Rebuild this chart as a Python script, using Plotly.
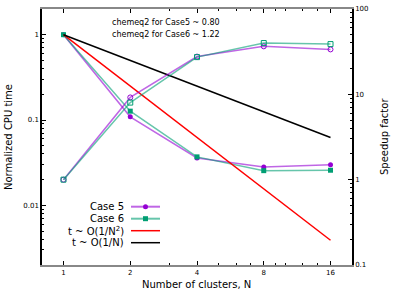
import math
import plotly.graph_objects as go

# ---------------- data ----------------
clusters = [1, 2, 4, 8, 16]
cpu_case5 = [1.0, 0.109, 0.0359, 0.0282, 0.0300]
cpu_case6 = [1.0, 0.127, 0.0370, 0.0255, 0.0258]
speedup_case5 = [1.0, 9.2, 27.7, 36.5, 33.6]
speedup_case6 = [1.0, 8.0, 27.3, 39.9, 38.8]
ideal_n = [1, 16]
ideal_n2_vals = [1.0, 0.0039]
ideal_n1_vals = [1.0, 0.0625]
x_ticks = [1, 2, 4, 8, 16]
x_minor = [3, 5, 6, 7, 9, 10, 12, 14]
y_ticks = [0.01, 0.1, 1]
y2_ticks = [0.1, 1, 10, 100]
legend_labels = ["Case 5", "Case 6", "t ~ O(1/N<sup>2</sup>)", "t ~ O(1/N)"]
notes = ["chemeq2 for Case5 ~ 0.80", "chemeq2 for Case6 ~ 1.22"]
x_title = "Number of clusters, N"
y_title = "Normalized CPU time"
y2_title = "Speedup factor"

PURPLE = "#9400d3"
GREEN = "#009e73"
PURPLE_L = "rgba(148,0,211,0.6)"
GREEN_L = "rgba(0,158,115,0.6)"
FONT = "DejaVu Sans"

W, H = 400, 293
L, R, T, B = 42, 48, 9, 28
pw, ph = W - L - R, H - T - B


def px(x):
    return (x - L) / pw


def py(y):
    return (H - B - y) / ph


fig = go.Figure()

fig.add_trace(go.Scatter(x=clusters, y=cpu_case5, mode="lines+markers",
                         line=dict(color=PURPLE_L, width=1.5),
                         marker=dict(symbol="circle", size=5, color=PURPLE),
                         showlegend=False))
fig.add_trace(go.Scatter(x=clusters, y=cpu_case6, mode="lines+markers",
                         line=dict(color=GREEN_L, width=1.5),
                         marker=dict(symbol="square", size=5, color=GREEN),
                         showlegend=False))
fig.add_trace(go.Scatter(x=clusters, y=speedup_case5, yaxis="y2", mode="lines+markers",
                         line=dict(color=PURPLE_L, width=1.5),
                         marker=dict(symbol="circle-open", size=5, color=PURPLE, line=dict(width=1)),
                         showlegend=False))
fig.add_trace(go.Scatter(x=clusters, y=speedup_case6, yaxis="y2", mode="lines+markers",
                         line=dict(color=GREEN_L, width=1.5),
                         marker=dict(symbol="square-open", size=5, color=GREEN, line=dict(width=1)),
                         showlegend=False))
fig.add_trace(go.Scatter(x=ideal_n, y=ideal_n2_vals, mode="lines",
                         line=dict(color="#ff0000", width=1.5), showlegend=False))
fig.add_trace(go.Scatter(x=ideal_n, y=ideal_n1_vals, mode="lines",
                         line=dict(color="#000000", width=1.5), showlegend=False))

# minor ticks for log y axes
y_minor = [m * 10 ** e for e in (-3, -2, -1, 0) for m in range(2, 10)
           if 0.002 < m * 10 ** e < 2]
y2_minor = [m * 10 ** e for e in (-1, 0, 1) for m in range(2, 10)]

tickfont = dict(family=FONT, size=7, color="#000")

fig.update_layout(
    width=W, height=H,
    margin=dict(l=L, r=R, t=T, b=B, autoexpand=False),
    plot_bgcolor="white", paper_bgcolor="white",
    font=dict(family=FONT, color="#000"),
    xaxis=dict(type="log", range=[math.log10(0.8), math.log10(20)],
               tickvals=x_ticks, ticktext=[str(v) for v in x_ticks],
               ticks="inside", ticklen=4, tickcolor="#000", tickwidth=1,
               showline=True, linecolor="#888888", linewidth=1.5, mirror="ticks",
               showgrid=False, zeroline=False, tickfont=tickfont, automargin=False,
               minor=dict(tickvals=x_minor, ticks="inside", ticklen=2, tickcolor="#000")),
    yaxis=dict(type="log", range=[math.log10(0.002), math.log10(2)],
               tickvals=y_ticks, ticktext=["0.01", "0.1", "1"],
               ticks="inside", ticklen=4, tickcolor="#000",
               showline=True, linecolor="#000", linewidth=1.5,
               showgrid=False, zeroline=False, tickfont=tickfont, automargin=False,
               minor=dict(tickvals=y_minor, ticks="inside", ticklen=2, tickcolor="#000")),
    yaxis2=dict(type="log", range=[-1, 2], overlaying="y", side="right",
                tickvals=y2_ticks, ticktext=["0.1", "1", "10", "100"],
                ticks="inside", ticklen=4, tickcolor="#000",
                showline=True, linecolor="#000", linewidth=1.5,
                showgrid=False, zeroline=False, tickfont=tickfont, automargin=False,
                minor=dict(tickvals=y2_minor, ticks="inside", ticklen=2, tickcolor="#000")),
)

# axis titles as annotations
fig.add_annotation(x=px(8), y=py(137), xref="paper", yref="paper", text=y_title,
                   textangle=-90, showarrow=False, xanchor="center", yanchor="middle",
                   font=dict(family=FONT, size=10, color="#000"))
fig.add_annotation(x=px(384), y=py(137), xref="paper", yref="paper", text=y2_title,
                   textangle=-90, showarrow=False, xanchor="center", yanchor="middle",
                   font=dict(family=FONT, size=10, color="#000"))
fig.add_annotation(x=px(196.7), y=py(284), xref="paper", yref="paper", text=x_title,
                   showarrow=False, xanchor="center", yanchor="middle",
                   font=dict(family=FONT, size=10, color="#000"))

# notes
for i, txt in enumerate(notes):
    fig.add_annotation(x=px(110), y=py(22 + 12 * i), xref="paper", yref="paper",
                       text=txt, showarrow=False, xanchor="left", yanchor="middle",
                       font=dict(family=FONT, size=8, color="#000"))

# custom gnuplot-style legend
leg_colors = [PURPLE_L, GREEN_L, "#ff0000", "#000000"]
leg_widths = [2, 2, 1.5, 1.5]
for i, lab in enumerate(legend_labels):
    yy = py(206.7 + 12 * i)
    fig.add_annotation(x=px(126), y=yy, xref="paper", yref="paper", text=lab,
                       showarrow=False, xanchor="right", yanchor="middle",
                       font=dict(family=FONT, size=10, color="#000"))
    fig.add_shape(type="line", xref="paper", yref="paper", x0=px(131), x1=px(160),
                  y0=yy, y1=yy, line=dict(color=leg_colors[i], width=leg_widths[i]))
    if i < 2:
        fig.add_shape(type="circle" if i == 0 else "rect", xref="paper", yref="paper",
                      xsizemode="pixel", ysizemode="pixel", xanchor=px(145.5), yanchor=yy,
                      x0=-2.5, x1=2.5, y0=-2.5, y1=2.5,
                      fillcolor=PURPLE if i == 0 else GREEN, line=dict(width=0))

fig.write_html("out.html", post_script="document.body.style.margin='0';",
               config={"displayModeBar": False})
